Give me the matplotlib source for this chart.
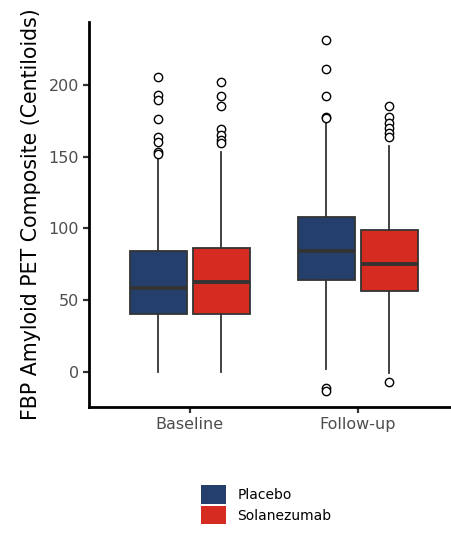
import matplotlib
matplotlib.use("Agg")
import matplotlib.pyplot as plt
from matplotlib.patches import Patch

# summary stats (Centiloids)
visits = ["Baseline", "Follow-up"]
groups = ["Placebo", "Solanezumab"]
colores = ["#243f6b", "#d62b20"]

q1 = {"Placebo": [40.0, 64.0], "Solanezumab": [40.3, 56.5]}
mediana = {"Placebo": [58.6, 84.4], "Solanezumab": [62.4, 75.1]}
q3 = {"Placebo": [84.4, 108.1], "Solanezumab": [86.1, 98.9]}
bigote_bajo = {"Placebo": [0.0, 1.9], "Solanezumab": [0.0, -1.1]}
bigote_alto = {"Placebo": [150.0, 175.6], "Solanezumab": [153.5, 157.5]}
atipicos = {
    "Placebo": [
        [205.8, 193.0, 189.5, 176.3, 164.0, 160.0, 153.5, 151.9],
        [231.2, 211.0, 192.5, 177.9, 176.8, -11.2, -13.2],
    ],
    "Solanezumab": [
        [201.9, 192.5, 185.3, 169.3, 165.1, 161.6, 159.3],
        [185.3, 177.9, 173.3, 169.8, 166.3, 163.5, -7.4],
    ],
}

fig = plt.figure(figsize=(4.52, 5.34), dpi=100)
ax = fig.add_axes([0.197, 0.238, 0.803, 0.721])

desplaz = [-0.1875, 0.1875]
for g, grupo in enumerate(groups):
    stats = []
    for v in range(len(visits)):
        stats.append({
            "med": mediana[grupo][v], "q1": q1[grupo][v], "q3": q3[grupo][v],
            "whislo": bigote_bajo[grupo][v], "whishi": bigote_alto[grupo][v],
            "fliers": atipicos[grupo][v],
        })
    pos = [v + 1 + desplaz[g] for v in range(len(visits))]
    ax.bxp(stats, positions=pos, widths=0.34, patch_artist=True, showcaps=False,
           boxprops=dict(facecolor=colores[g], edgecolor="#333333", linewidth=1.3),
           medianprops=dict(color="#333333", linewidth=2.8),
           whiskerprops=dict(color="#333333", linewidth=1.3),
           flierprops=dict(marker="o", markerfacecolor="white", markeredgecolor="black",
                           markersize=6, markeredgewidth=1.0))

ax.set_xlim(0.4, 2.56)
ax.set_ylim(-24.6, 244)
ax.set_xticks([1, 2])
ax.set_xticklabels(visits)
ax.set_yticks([0, 50, 100, 150, 200])
ax.tick_params(axis="both", colors="#333333", labelcolor="#4d4d4d", labelsize=11.5,
               length=4.3, width=1.6, pad=3)
ax.set_ylabel("FBP Amyloid PET Composite (Centiloids)", fontsize=14.8, color="black",
              labelpad=5)
for lado in ["top", "right"]:
    ax.spines[lado].set_visible(False)
for lado in ["left", "bottom"]:
    ax.spines[lado].set_linewidth(2)
    ax.spines[lado].set_color("black")

manijas = [Patch(facecolor=c, edgecolor="none") for c in colores]
fig.legend(manijas, groups, loc="upper left", bbox_to_anchor=(0.43, 0.105),
           frameon=False, fontsize=10, handlelength=1.8, handleheight=1.7,
           labelspacing=0.15, handletextpad=0.8, borderpad=0)

fig.savefig("out.png", dpi=100)
